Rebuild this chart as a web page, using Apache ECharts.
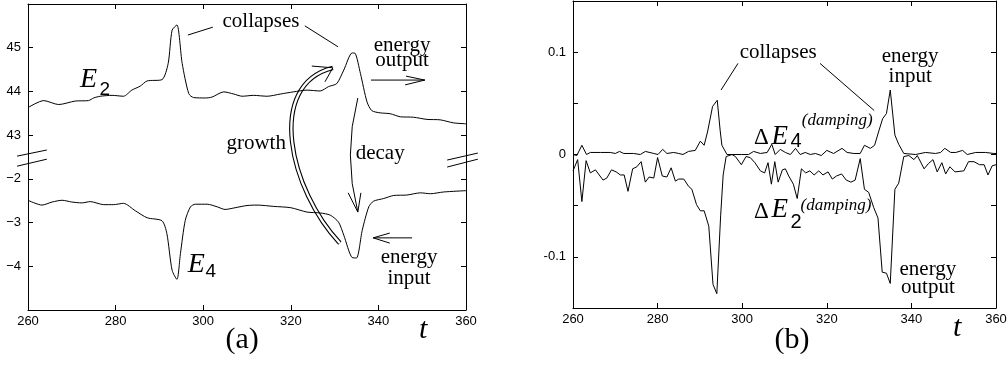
<!DOCTYPE html>
<html>
<head>
<meta charset="utf-8">
<title>E2 / E4 and damping</title>
<script src="https://cdn.jsdelivr.net/npm/echarts@6/dist/echarts.min.js"></script>
<style>
  html, body { margin: 0; padding: 0; background: #fff; }
  #main { width: 1008px; height: 367px; }
</style>
</head>
<body>
<div id="main"></div>
<script>
// ---- panel (a): E2 (upper part of the broken axis) and E4 (lower part)
var e2T = [260, 263.6, 267, 270.8, 273.8, 275, 276.5, 279.2, 281.8, 283.7, 285.6, 287.2, 290.6, 292, 292.9, 294,
           295.2, 296.7, 297.8, 300.5, 302, 304.7, 307, 308.9, 311.5, 314.6, 317.6, 320.6, 323.7, 326.7, 328.6,
           330.5, 332.1, 334, 334.7, 335.9, 337.4, 338.5, 340.4, 342.7, 345, 348, 351.1, 354.1, 357.2, 360];
var e2V = [43.63, 43.79, 43.70, 43.78, 43.79, 43.85, 43.89, 43.91, 43.89, 44.03, 44.12, 44.24, 44.27, 44.64, 45.40, 45.52,
           44.64, 43.95, 43.86, 43.85, 43.87, 43.99, 43.94, 43.89, 43.91, 43.89, 43.94, 43.99, 44.03, 44.01, 44.11,
           44.18, 44.49, 44.88, 44.87, 44.41, 43.76, 43.56, 43.51, 43.49, 43.42, 43.41, 43.36, 43.35, 43.28, 43.26];

var e4T = [260, 263.2, 265.5, 267.8, 270, 272.3, 274.2, 277.3, 279.5, 281.8, 284.5, 287.2, 290.6, 291.7, 292.9, 294,
           294.8, 295.9, 297.1, 298.2, 300.9, 303.2, 305, 307.3, 310, 312.3, 316.1, 320, 323.7, 326.7, 329,
           330.9, 332.1, 334, 335, 336.3, 337.8, 338.9, 341.2, 343.5, 346.5, 349.6, 351.9, 354.9, 360];
var e4V = [-2.49, -2.60, -2.53, -2.49, -2.53, -2.55, -2.52, -2.59, -2.59, -2.56, -2.73, -2.89, -2.96, -3.25, -4.09, -4.30,
           -3.71, -2.95, -2.64, -2.58, -2.58, -2.64, -2.70, -2.66, -2.61, -2.60, -2.63, -2.66, -2.76, -2.78, -2.83,
           -2.99, -3.29, -3.80, -3.81, -3.18, -2.64, -2.51, -2.45, -2.38, -2.37, -2.32, -2.34, -2.30, -2.27];

// tick labels of the broken axis, one per unit step from the bottom of the box
var yLabelsA = ['', '\u22124', '\u22123', '\u22122', '43', '44', '45', ''];

// ---- panel (b): damping terms
var d4T = [260, 260.9, 262.1, 263.2, 264.1, 266.5, 268.8, 270, 271, 272, 274.3, 275.9, 277.1, 279.1, 280.1, 281.2,
           282.2, 283.8, 285, 286, 287.3, 288.9, 290.1, 291, 291.8, 293, 294.1, 294.8, 295.2, 296.4, 297.6, 299.8,
           301.5, 302.7, 304.3, 305.9, 307, 307.8, 309, 310.2, 311.4, 312.6, 313.7, 314.9, 316.1, 317.3, 318.7,
           320, 321.6, 323.6, 324.8, 326.4, 327.9, 328.9, 330.3, 331.3, 332.3, 333.2, 334.1, 335, 336.1, 337,
           338.2, 341, 343.3, 345.7, 346.9, 347.9, 349.3, 350.5, 352.1, 353.2, 355.2, 357.5, 359.5, 360];
var d4V = [0, -0.001, 0.009, 0, 0.002, 0.002, 0.002, 0.001, 0.003, 0.001, 0.001, 0, 0.003, 0.001, 0, 0.005,
           0.001, 0.002, 0.001, 0, 0.003, 0.004, 0.013, 0.009, 0.022, 0.047, 0.053, 0.023, 0.009, 0, 0, 0,
           0, 0.003, 0.001, 0.002, 0.010, 0, 0.005, 0.002, 0, 0.006, 0, 0.002, 0, 0.001, -0.001,
           0.004, 0.001, 0.006, 0.002, 0.001, 0.001, 0.009, 0.006, 0.009, 0.023, 0.035, 0.040, 0.063, 0.019, 0.010,
           0.001, 0, 0.002, 0.001, 0.002, 0.006, 0.002, 0.002, 0.004, 0, 0.002, 0.002, 0.001, 0.001];

var d2T = [260, 261.1, 262.1, 263.1, 264.1, 265.3, 267.1, 268, 269.1, 270.2, 271.2, 272.1, 273, 274.1, 275.1, 276.1,
           277.1, 278, 279.1, 280, 281.1, 282.2, 283.2, 284.2, 285, 286.2, 287.3, 288.1, 289.2, 290.1, 291, 292.1,
           293.1, 294, 294.9, 295.5, 296.2, 297.6, 298.4, 299.8, 300.9, 301.9, 303, 304.3, 305.3, 306.1, 306.9,
           307.7, 308.5, 309.5, 310.2, 311, 312.1, 313, 314, 315, 316, 317, 318.1, 319.1, 320.3, 321.3, 322.3,
           323.5, 324.6, 325.7, 326.7, 327.9, 328.9, 329.9, 331.1, 332.1, 333.1, 334.1, 335, 336.1, 337, 338.2,
           339.4, 340.6, 341.4, 343, 344, 345.1, 346.1, 347.2, 348.1, 349.1, 350.3, 352.4, 353.5, 354.8, 356.1,
           357.2, 358.1, 359.1, 360];
var d2V = [-0.016, -0.005, -0.046, -0.006, -0.018, -0.015, -0.025, -0.023, -0.015, -0.017, -0.020, -0.020, -0.036, -0.014, -0.012, -0.007,
           -0.027, -0.022, -0.023, -0.003, -0.021, -0.022, -0.013, -0.026, -0.024, -0.024, -0.031, -0.034, -0.049, -0.055, -0.055, -0.070,
           -0.127, -0.136, -0.060, -0.020, -0.002, 0, -0.002, -0.010, -0.002, -0.003, -0.008, -0.016, -0.018, -0.008, -0.029,
           -0.007, -0.027, -0.015, -0.014, -0.021, -0.029, -0.043, -0.014, -0.018, -0.016, -0.020, -0.016, -0.020, -0.017, -0.024, -0.021,
           -0.019, -0.025, -0.027, -0.025, -0.004, -0.034, -0.037, -0.052, -0.062, -0.115, -0.116, -0.126, -0.034, -0.028, -0.002,
           -0.001, -0.005, -0.001, -0.014, -0.009, -0.005, -0.017, -0.008, -0.019, -0.012, -0.017, -0.016, -0.007, -0.007, -0.010,
           -0.010, -0.020, -0.011, -0.010];

var yLabelsB = ['', '-0.1', '', '0', '', '0.1', ''];

// plotted position on the broken axis of panel (a)
function upper(e) { return e - 39; }
function lower(e) { return e + 5; }

function pairs(ts, vs, f) {
  return ts.map(function (t, i) { return [t, f ? f(vs[i]) : vs[i]]; });
}

var tickFont = { color: '#000', fontFamily: 'Liberation Sans', fontSize: 13 };

function xAxis(grid, pos, labels) {
  return {
    type: 'value', gridIndex: grid, position: pos, min: 260, max: 360, interval: 20,
    axisLine: { show: true, onZero: false, lineStyle: { color: '#000', width: 1 } },
    axisTick: { show: true, inside: true, length: 5, lineStyle: { color: '#000' } },
    axisLabel: Object.assign({ show: labels, margin: 5 }, tickFont),
    splitLine: { show: false }
  };
}

function yAxis(grid, pos, labels, min, max, step, fmt) {
  return {
    type: 'value', gridIndex: grid, position: pos, min: min, max: max, interval: step,
    axisLine: { show: true, onZero: false, lineStyle: { color: '#000', width: 1 } },
    axisTick: { show: true, inside: true, length: 5, lineStyle: { color: '#000' } },
    axisLabel: Object.assign({ show: labels, margin: 7, formatter: fmt }, tickFont),
    splitLine: { show: false }
  };
}

function line(name, xi, yi, data, smooth) {
  return {
    name: name, type: 'line', xAxisIndex: xi, yAxisIndex: yi, data: data,
    symbol: 'none', smooth: smooth, silent: true,
    lineStyle: { color: '#000', width: 1 }
  };
}

var chart = echarts.init(document.getElementById('main'));

chart.setOption({
  animation: false,
  backgroundColor: '#fff',
  grid: [
    { left: 28, top: 4, width: 438, height: 306, outerBoundsMode: 'none' },
    { left: 573, top: 1, width: 423, height: 307, outerBoundsMode: 'none' }
  ],
  xAxis: [ xAxis(0, 'bottom', true), xAxis(0, 'top', false), xAxis(1, 'bottom', true), xAxis(1, 'top', false) ],
  yAxis: [
    yAxis(0, 'left', true, 0, 7, 1, function (v) { return yLabelsA[Math.round(v)] || ''; }),
    yAxis(0, 'right', false, 0, 7, 1),
    yAxis(1, 'left', true, -0.15, 0.15, 0.05, function (v) { return yLabelsB[Math.round((v + 0.15) / 0.05)] || ''; }),
    yAxis(1, 'right', false, -0.15, 0.15, 0.05)
  ],
  series: [
    line('E2', 0, 0, pairs(e2T, e2V, upper), 0.25),
    line('E4', 0, 0, pairs(e4T, e4V, lower), 0.25),
    line('dE4', 2, 2, pairs(d4T, d4V), false),
    line('dE2', 2, 2, pairs(d2T, d2V), false)
  ]
});

// ---- annotations, placed in data coordinates of each panel
function P(s, t, v) { return chart.convertToPixel({ seriesIndex: s }, [t, v]); }

var serif = '"Liberation Serif", "Times New Roman", serif';
var sans = '"Liberation Sans", Arial, sans-serif';

function txt(s, t, v, str, font, align) {
  var p = P(s, t, v);
  return { type: 'text', x: p[0], y: p[1], silent: true,
    style: { text: str, font: font, fill: '#000', align: align || 'center', verticalAlign: 'middle' } };
}
function seg(s, a, b, w) {
  var p = P(s, a[0], a[1]), q = P(s, b[0], b[1]);
  return { type: 'line', silent: true, shape: { x1: p[0], y1: p[1], x2: q[0], y2: q[1] },
    style: { stroke: '#000', lineWidth: w || 1 } };
}
function curve(s, a, c1, c2, b, w, color) {
  var p = P(s, a[0], a[1]), q = P(s, b[0], b[1]), k1 = P(s, c1[0], c1[1]);
  var shape = { x1: p[0], y1: p[1], x2: q[0], y2: q[1], cpx1: k1[0], cpy1: k1[1] };
  if (c2) { var k2 = P(s, c2[0], c2[1]); shape.cpx2 = k2[0]; shape.cpy2 = k2[1]; }
  return { type: 'bezierCurve', silent: true, shape: shape,
    style: { stroke: color || '#000', fill: 'none', lineWidth: w || 1 } };
}

var f21 = '21px ' + serif;
var g = [];

// panel (a)
g.push(txt(0, 313.2, 6.59, 'collapses', f21));
g.push(seg(0, [296.5, 6.29], [302.2, 6.47]));
g.push(seg(0, [323.2, 6.50], [330.8, 6.02]));
g.push(txt(0, 271.9, 5.28, 'E', 'italic 28px ' + serif, 'left'));
g.push(txt(0, 276.3, 5.04, '2', '19px ' + sans, 'left'));
g.push(txt(0, 296.5, 1.03, 'E', 'italic 28px ' + serif, 'left'));
g.push(txt(0, 300.5, 0.88, '4', '19px ' + sans, 'left'));
g.push(txt(0, 345.4, 6.06, 'energy', f21));
g.push(txt(0, 345.4, 5.70, 'output', f21));
g.push(seg(0, [338.3, 5.26], [350.6, 5.26]));
g.push(seg(0, [346.3, 5.35], [350.6, 5.26]));
g.push(seg(0, [346.1, 5.15], [350.6, 5.26]));
g.push(txt(0, 312.1, 3.82, 'growth', f21));
g.push(txt(0, 340.4, 3.57, 'decay', f21));
g.push(curve(0, [335.3, 4.85], [331.9, 3.54], null, [335.3, 2.24]));
g.push(seg(0, [333.1, 2.68], [335.3, 2.24]));
g.push(seg(0, [336.0, 2.68], [335.3, 2.24]));
g.push(seg(0, [347.7, 1.65], [338.8, 1.65]));
g.push(seg(0, [342.6, 1.76], [338.8, 1.65]));
g.push(seg(0, [342.6, 1.53], [338.8, 1.65]));
g.push(txt(0, 347.0, 1.21, 'energy', f21));
g.push(txt(0, 347.0, 0.71, 'input', f21));
// hollow "growth" arrow: a wide black stroke with a white core
g.push(curve(0, [331.2, 1.53], [319.8, 2.74], [314.1, 5.15], [329.6, 5.54], 4.5));
g.push(curve(0, [331.2, 1.53], [319.8, 2.74], [314.1, 5.15], [329.6, 5.54], 2.3, '#fff'));
g.push(seg(0, [324.8, 5.58], [329.6, 5.54]));
g.push(seg(0, [327.8, 5.22], [329.6, 5.54]));
// axis break marks
g.push(seg(0, [257.5, 3.52], [264.3, 3.66]));
g.push(seg(0, [257.5, 3.29], [264.3, 3.45]));
g.push(seg(0, [355.7, 3.43], [362.7, 3.59]));
g.push(seg(0, [355.7, 3.27], [362.7, 3.45]));
g.push(txt(0, 308.9, -0.69, '(a)', '30px ' + serif));
g.push(txt(0, 350.2, -0.46, 't', 'italic 30px ' + serif));

// panel (b)
g.push(txt(2, 308.5, 0.100, 'collapses', f21));
g.push(seg(2, [299.0, 0.089], [295.0, 0.063]));
g.push(seg(2, [318.4, 0.089], [331.2, 0.043]));
g.push(txt(2, 339.7, 0.096, 'energy', f21));
g.push(txt(2, 339.7, 0.076, 'input', f21));
g.push(txt(2, 343.9, -0.112, 'energy', f21));
g.push(txt(2, 343.9, -0.130, 'output', f21));
g.push(txt(2, 302.8, 0.0166, '\u0394', '23px ' + serif, 'left'));
g.push(txt(2, 306.9, 0.0176, 'E', 'italic 27px ' + serif, 'left'));
g.push(txt(2, 311.4, 0.0125, '4', '20px ' + sans, 'left'));
g.push(txt(2, 314.1, 0.0332, '(damping)', 'italic 17px ' + serif, 'left'));
g.push(txt(2, 302.8, -0.0566, '\u0394', '23px ' + serif, 'left'));
g.push(txt(2, 306.9, -0.0546, 'E', 'italic 27px ' + serif, 'left'));
g.push(txt(2, 311.4, -0.0663, '2', '20px ' + sans, 'left'));
g.push(txt(2, 313.8, -0.0498, '(damping)', 'italic 17px ' + serif, 'left'));
g.push(txt(2, 311.8, -0.1815, '(b)', '30px ' + serif));
g.push(txt(2, 350.8, -0.170, 't', 'italic 30px ' + serif));

chart.setOption({ graphic: g });
</script>
</body>
</html>
